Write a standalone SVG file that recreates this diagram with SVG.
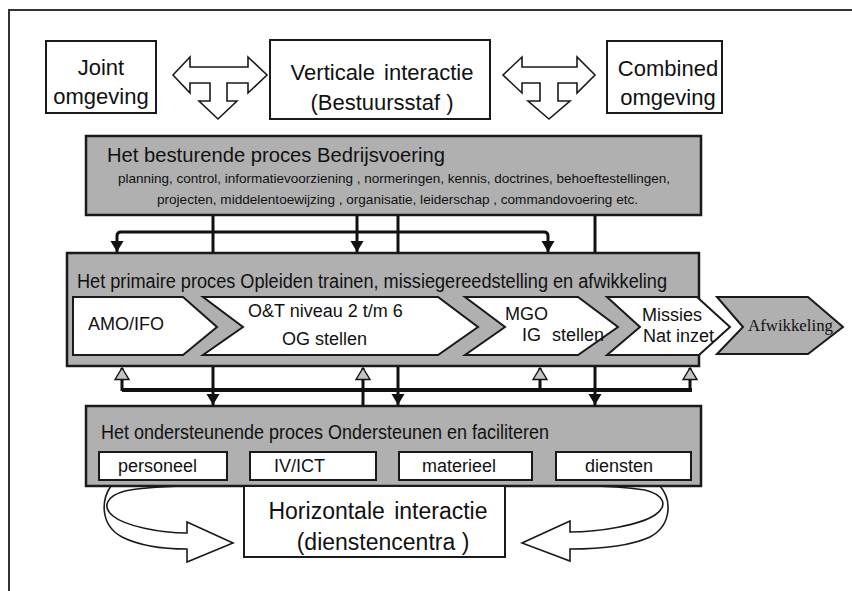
<svg xmlns="http://www.w3.org/2000/svg" width="852" height="591" viewBox="0 0 852 591">
<style>
text{font-family:"Liberation Sans",Arial,sans-serif;fill:#111}
.box{fill:#fff;stroke:#1a1a1a;stroke-width:2}
.gray{fill:#b0b0b0;stroke:#1a1a1a;stroke-width:2.5}
.chev{fill:#fff;stroke:#1a1a1a;stroke-width:2}
.sub{fill:#fff;stroke:#1a1a1a;stroke-width:2}
.hollow{fill:#fff;stroke:#1a1a1a;stroke-width:1.6;stroke-linejoin:miter}
.ln{fill:none;stroke:#111;stroke-width:3}
.big{font-size:22px}
.mid{font-size:18px}
.title{font-size:20px}
.small{font-size:13px}
</style>
<defs>
<marker id="ah" markerUnits="userSpaceOnUse" markerWidth="12" markerHeight="14" refX="11" refY="7" orient="auto">
<path d="M0,0.5 L11,7 L0,13.5 Z" fill="#111"/>
</marker>
<marker id="tri" markerUnits="userSpaceOnUse" markerWidth="14" markerHeight="17" refX="12.5" refY="8.5" orient="auto">
<path d="M1,1.5 L12.5,8.5 L1,15.5 Z" fill="#c4c4c4" stroke="#111" stroke-width="1.4"/>
</marker>
</defs>
<rect width="852" height="591" fill="#fff"/>
<path d="M9,591 L9,10 L852,10" fill="none" stroke="#333" stroke-width="2"/>

<g id="connectors">
<path class="hollow" d="M173,75 L190,57 L190,67 L248,67 L248,57 L267,75 L248,93 L248,83 L227,83 L227,101 L237,101 L218,119 L199,101 L210,101 L210,83 L190,83 L190,93 Z"/>
<path class="hollow" d="M503,75 L522,57 L522,67 L577,67 L577,57 L595,75 L577,93 L577,83 L558,83 L558,101 L570,101 L549,119 L528,101 L540,101 L540,83 L522,83 L522,93 Z"/>
<path class="ln" d="M213,215 L213,253"/>
<path class="ln" d="M398,215 L398,253"/>
<path class="ln" d="M595,215 L595,253"/>
<path class="ln" d="M357,215 L357,252" marker-end="url(#ah)"/>
<path class="ln" d="M335,232 L121,232 Q117,232 117,236 L117,252" marker-end="url(#ah)"/>
<path class="ln" d="M335,232 L544,232 Q548,232 548,236 L548,252" marker-end="url(#ah)"/>
<path class="ln" d="M213,366 L213,405" marker-end="url(#ah)"/>
<path class="ln" d="M398,366 L398,405" marker-end="url(#ah)"/>
<path class="ln" d="M595,366 L595,405" marker-end="url(#ah)"/>
<path d="M122,390 L692,390" fill="none" stroke="#111" stroke-width="4"/>
<path class="ln" d="M122,391 L122,368" marker-end="url(#tri)"/>
<path class="ln" d="M363,406 L363,368" marker-end="url(#tri)"/>
<path class="ln" d="M540,391 L540,368" marker-end="url(#tri)"/>
<path class="ln" d="M690,391 L690,368" marker-end="url(#tri)"/>
<path class="hollow" d="M111,486 C101,500 100,525 122,537 C140,546 165,549 187,549 L187,562 L233,543 L187,522 L187,533 C160,533 125,526 113,516 C102,507 106,496 125,491 C145,487 170,486 199,486 Z"/>
<path class="hollow" d="M660,486 C672,500 672,525 650,537 C630,546 600,549 570,549 L570,561 L522,543 L570,521 L570,532 C600,532 640,525 655,515 C668,506 665,495 645,490 C625,487 605,486 584,486 Z"/>
</g>

<g id="joint">
<rect class="box" x="46" y="41" width="110" height="72"/>
<text class="big" x="101" y="75" text-anchor="middle">Joint</text>
<text class="big" x="101" y="104" text-anchor="middle">omgeving</text>
</g>
<g id="verticale">
<rect class="box" x="270" y="40" width="220" height="79"/>
<text class="big" x="382" y="80" text-anchor="middle" word-spacing="3">Verticale interactie</text>
<text class="big" x="382" y="110" text-anchor="middle">(Bestuursstaf )</text>
</g>
<g id="combined">
<rect class="box" x="607" y="41" width="115" height="72"/>
<text class="big" x="668" y="76" text-anchor="middle">Combined</text>
<text class="big" x="668" y="105" text-anchor="middle">omgeving</text>
</g>

<g id="besturend">
<rect class="gray" x="86" y="136" width="615" height="79"/>
<text class="title" x="107" y="162" textLength="338" lengthAdjust="spacingAndGlyphs">Het besturende proces Bedrijsvoering</text>
<text class="small" x="118" y="183" textLength="552" lengthAdjust="spacingAndGlyphs">planning, control, informatievoorziening , normeringen, kennis, doctrines, behoeftestellingen,</text>
<text class="small" x="157" y="204" textLength="481" lengthAdjust="spacingAndGlyphs">projecten, middelentoewijzing , organisatie, leiderschap , commandovoering  etc.</text>
</g>

<g id="primair">
<rect class="gray" x="67" y="253" width="632" height="113"/>
<text class="title" x="77" y="288" textLength="590" lengthAdjust="spacingAndGlyphs">Het primaire proces  Opleiden  trainen, missiegereedstelling en afwikkeling</text>
</g>
<g id="amo-ifo">
<polygon class="chev" points="73,297 183,297 217,327 183,355 73,355"/>
<text class="mid" x="88" y="330">AMO/IFO</text>
</g>
<g id="ot">
<polygon class="chev" points="203,297 438,297 478,327 438,355 203,355 243,327"/>
<text class="mid" x="248" y="317">O&amp;T niveau 2 t/m 6</text>
<text class="mid" x="282" y="345">OG stellen</text>
</g>
<g id="mgo">
<polygon class="chev" points="465,297 578,297 618,327 578,355 465,355 505,327"/>
<text class="mid" x="505" y="320">MGO</text>
<text class="mid" y="341"><tspan x="522">IG</tspan><tspan x="552">stellen</tspan></text>
</g>
<g id="missies">
<polygon class="chev" points="607,297 697,297 730,327 699,355 607,355 640,327"/>
<text class="mid" x="642" y="321">Missies</text>
<text class="mid" x="643" y="342">Nat inzet</text>
</g>
<g id="afwikkeling">
<polygon points="717,297 808,297 843,327 808,354 717,354 743,327" fill="#b0b0b0" stroke="#1a1a1a" stroke-width="2"/>
<text x="748" y="331" style="font-family:'Liberation Serif','Times New Roman',serif;font-size:16.5px" textLength="85" lengthAdjust="spacingAndGlyphs">Afwikkeling</text>
</g>

<g id="ondersteunend">
<rect class="gray" x="86" y="406" width="615" height="80"/>
<text class="title" x="101" y="439" textLength="448" lengthAdjust="spacingAndGlyphs">Het ondersteunende proces Ondersteunen en faciliteren</text>
</g>
<g id="personeel">
<rect class="sub" x="99" y="452" width="128" height="28"/>
<text class="mid" x="118" y="472">personeel</text>
</g>
<g id="iv-ict">
<rect class="sub" x="250" y="452" width="126" height="28"/>
<text class="mid" x="274" y="472">IV/ICT</text>
</g>
<g id="materieel">
<rect class="sub" x="399" y="452" width="133" height="28"/>
<text class="mid" x="422" y="472">materieel</text>
</g>
<g id="diensten">
<rect class="sub" x="556" y="452" width="135" height="28"/>
<text class="mid" x="585" y="472">diensten</text>
</g>

<g id="horizontale">
<rect class="box" x="244" y="486" width="261" height="71"/>
<text x="378" y="519" text-anchor="middle" style="font-size:23px" word-spacing="3">Horizontale interactie</text>
<text x="383" y="550" text-anchor="middle" style="font-size:23px">(dienstencentra )</text>
</g>
</svg>
